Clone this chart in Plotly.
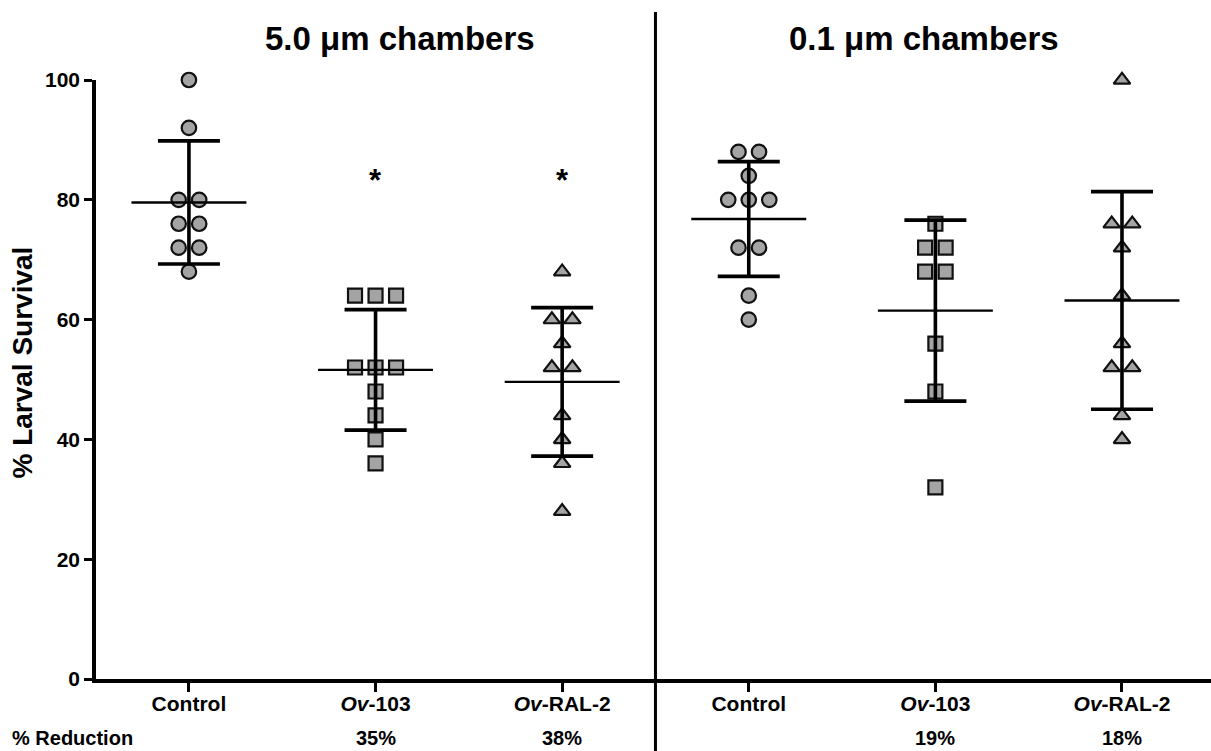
import numpy as np
import plotly.graph_objects as go

# ---- data ----
categories = ["Control", "<i>Ov</i>-103", "<i>Ov</i>-RAL-2",
              "Control", "<i>Ov</i>-103", "<i>Ov</i>-RAL-2"]
ctrl_5 = [100, 92, 80, 80, 76, 76, 72, 72, 68]
ov103_5 = [64, 64, 64, 52, 52, 52, 48, 44, 40, 36]
ral2_5 = [68, 60, 60, 56, 52, 52, 44, 40, 36, 28]
ctrl_01 = [88, 88, 84, 80, 80, 80, 72, 72, 64, 60]
ov103_01 = [76, 72, 72, 68, 68, 56, 48, 32]
ral2_01 = [100, 76, 76, 72, 64, 56, 52, 52, 44, 40]
groups = [ctrl_5, ov103_5, ral2_5, ctrl_01, ov103_01, ral2_01]
symbols = ["circle", "square", "triangle-up", "circle", "square", "triangle-up"]
reduction = ["", "35%", "38%", "", "19%", "18%"]
significant = [False, True, True, False, False, False]
y_ticks = [0, 20, 40, 60, 80, 100]
panel_titles = ["5.0 \u03bcm chambers", "0.1 \u03bcm chambers"]

FONT = "Liberation Sans"
FILL = "#a4a4a4"
EDGE = "#111111"
STEP = 0.11      # horizontal spread of tied values (x units)
HALF = 0.308     # half-width of mean line

fig = go.Figure()

positions = list(range(len(groups)))
sizes = {"circle": 14.5, "square": 14, "triangle-up": 14.5}

# points (scatter with ties spread horizontally)
for pos, vals, sym in zip(positions, groups, symbols):
    xs, ys = [], []
    uniq = sorted(set(vals), reverse=True)
    for v in uniq:
        k = vals.count(v)
        for i in range(k):
            xs.append(pos + (i - (k - 1) / 2) * STEP)
            ys.append(v)
    fig.add_trace(go.Scatter(
        x=xs, y=ys, mode="markers", cliponaxis=False,
        marker=dict(symbol=sym, size=sizes[sym], color=FILL,
                    line=dict(color=EDGE, width=2.2)),
        showlegend=False, hoverinfo="y"))

# mean +/- SD
means = [float(np.mean(g)) for g in groups]
sds = [float(np.std(g, ddof=1)) for g in groups]
fig.add_trace(go.Scatter(
    x=positions, y=means, mode="markers", cliponaxis=False,
    marker=dict(size=1, color="rgba(0,0,0,0)"),
    error_y=dict(type="data", array=sds, symmetric=True,
                 color="black", thickness=3.6, width=31),
    showlegend=False, hoverinfo="skip"))

mx, my = [], []
for pos, m in zip(positions, means):
    mx += [pos - HALF, pos + HALF, None]
    my += [m, m, None]
fig.add_trace(go.Scatter(x=mx, y=my, mode="lines", cliponaxis=False,
                         line=dict(color="black", width=2.4),
                         showlegend=False, hoverinfo="skip"))

annotations = []
# significance asterisks
for pos, sig in zip(positions, significant):
    if sig:
        annotations.append(dict(x=pos, y=83.3, xref="x", yref="y", text="<b>*</b>",
                                showarrow=False, font=dict(family=FONT, size=31, color="black")))
# % Reduction row
annotations.append(dict(x=-0.077, y=-0.099, xref="paper", yref="paper", text="<b>% Reduction</b>",
                        xanchor="left", yanchor="middle", showarrow=False,
                        font=dict(family=FONT, size=20, color="black")))
for pos, r in zip(positions, reduction):
    if r:
        annotations.append(dict(x=pos, y=-0.099, xref="x", yref="paper", text=f"<b>{r}</b>",
                                xanchor="center", yanchor="middle", showarrow=False,
                                font=dict(family=FONT, size=20, color="black")))
# panel titles
for xp, t in zip([0.2726, 0.7426], panel_titles):
    annotations.append(dict(x=xp, y=1.070, xref="paper", yref="paper", text=f"<b>{t}</b>",
                            xanchor="center", yanchor="middle", showarrow=False,
                            font=dict(family=FONT, size=33, color="black")))
# y-axis title
annotations.append(dict(x=-0.066, y=0.529, xref="paper", yref="paper",
                        text="<b>% Larval Survival</b>", textangle=-90,
                        xanchor="center", yanchor="middle", showarrow=False,
                        font=dict(family=FONT, size=28, color="black")))

fig.update_layout(
    width=1211, height=751,
    margin=dict(l=96, r=0, t=80, b=72),
    paper_bgcolor="white", plot_bgcolor="white",
    annotations=annotations,
    shapes=[dict(type="line", xref="x", yref="paper", x0=2.5, x1=2.5,
                 y0=-0.125, y1=1.1135, line=dict(color="black", width=3))],
    xaxis=dict(range=[-0.498, 5.477], tickmode="array", tickvals=positions,
               ticktext=categories, showgrid=False, zeroline=False,
               showline=True, linecolor="black", linewidth=3.5,
               ticks="outside", ticklen=9, tickwidth=3, tickcolor="black",
               ticklabelstandoff=-6,
               tickfont=dict(family=FONT, size=21, color="black", weight="bold")),
    yaxis=dict(range=[0, 100], tickmode="array", tickvals=y_ticks,
               showgrid=False, zeroline=False, showline=True,
               linecolor="black", linewidth=3.5,
               ticks="outside", ticklen=8, tickwidth=3, tickcolor="black",
               tickfont=dict(family=FONT, size=21, color="black", weight="bold")),
)

fig.write_html("out.html")
